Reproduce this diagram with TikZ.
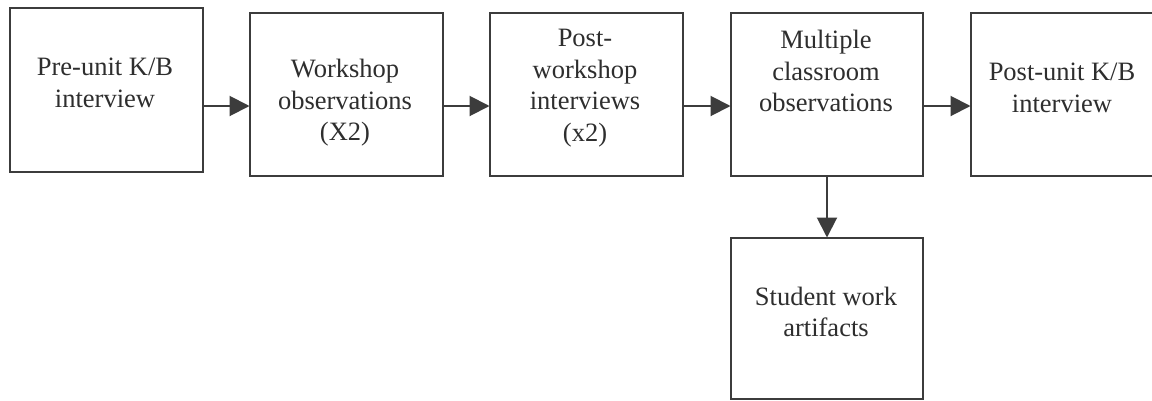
\documentclass[tikz,border=0pt]{standalone}
\usepackage{fontspec}
\setmainfont{Liberation Serif}
\usetikzlibrary{arrows.meta}
\definecolor{inkline}{HTML}{3C3C3C}
\definecolor{inktext}{HTML}{2E2E2E}
\tikzset{
  stage/.style={draw=inkline, line width=2pt, fill=white, inner sep=0pt, anchor=north west},
  caption/.style={text=inktext, align=center, inner sep=0pt,
    font=\fontsize{26.5}{31.5}\selectfont},
  flow/.style={draw=inkline, line width=2pt,
    -{Triangle[length=20pt,width=20pt]}, shorten >=-0.5pt},
}
\begin{document}
\begin{tikzpicture}[x=1pt, y=-1pt]
  \useasboundingbox[fill=white] (0,0) rectangle (1152,400);

  % boxes (top-left corner, then size)
  \node[stage, minimum width=193pt, minimum height=164pt] (pre)  at (9,7)    {};
  \node[stage, minimum width=193pt, minimum height=163pt] (ws)   at (249,12) {};
  \node[stage, minimum width=193pt, minimum height=163pt] (pw)   at (489,12) {};
  \node[stage, minimum width=192pt, minimum height=163pt] (cls)  at (730,12) {};
  \node[stage, minimum width=190pt, minimum height=163pt] (post) at (970,12) {};
  \node[stage, minimum width=192pt, minimum height=161pt] (art)  at (730,237) {};

  % labels
  \node[caption] (preT)  at (105,83)  {Pre-unit K/B\\interview};
  \node[caption] (wsT)   at (345,103) {Workshop\\observations\\(X2)};
  \node[caption] (pwT)   at (585,88)  {Post-\\workshop\\interviews\\(x2)};
  \node[caption] (clsT)  at (826,71)  {Multiple\\classroom\\observations};
  \node[caption] (postT) at (1062,88) {Post-unit K/B\\interview};
  \node[caption] (artT)  at (826,312) {Student work\\artifacts};

  % connectors
  \coordinate (row) at (0,106);
  \draw[flow] (pre.east |- row) -- (ws.west |- row);
  \draw[flow] (ws.east |- row)  -- (pw.west |- row);
  \draw[flow] (pw.east |- row)  -- (cls.west |- row);
  \draw[flow] (cls.east |- row) -- (post.west |- row);
  \draw[flow] (cls.south) -- (art.north);
\end{tikzpicture}
\end{document}
